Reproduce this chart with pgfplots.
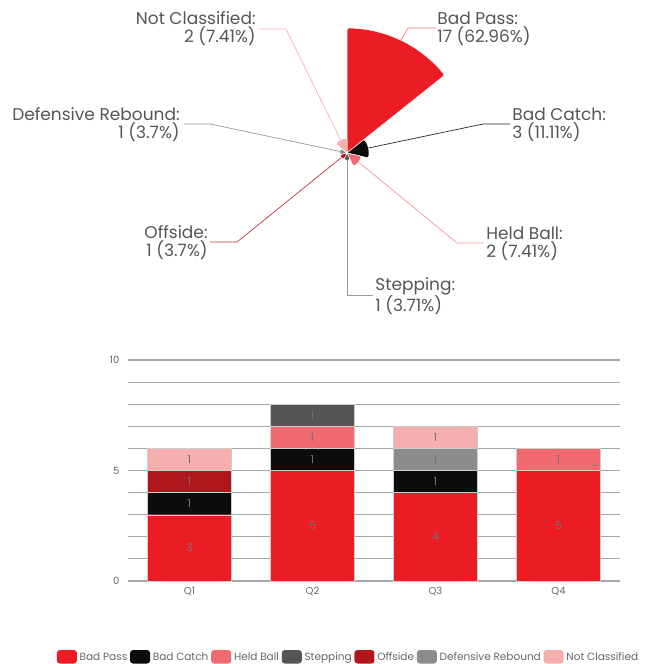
\documentclass[border=0pt]{standalone}
\usepackage{pgfplots}
\pgfplotsset{compat=1.18}
\usepackage{pgfplotstable}
\usepgfplotslibrary{polar}
\usepackage{fontspec}
\setmainfont{Poppins}
\definecolor{cBP}{HTML}{EC1C24}
\definecolor{cBC}{HTML}{0C0C0C}
\definecolor{cHB}{HTML}{F06A70}
\definecolor{cST}{HTML}{555555}
\definecolor{cOF}{HTML}{B0161C}
\definecolor{cDR}{HTML}{8C8C8C}
\definecolor{cNC}{HTML}{F7AEAE}
\definecolor{txt}{HTML}{555555}

\pgfplotstableread{
x BP BC HB ST OF DR NC
0 3 1 0 0 1 0 1
1 5 1 1 1 0 0 0
2 4 1 0 0 0 1 1
3 5 0 1 0 0 0 0
}\bardata

\pgfplotsset{seg/.style={table/x=x, table/y=#1, table/meta=#1}}

\begin{document}
\begin{tikzpicture}
\path[use as bounding box] (0pt,0pt) rectangle (646pt,-664pt);

% ---------- polar area chart ----------
\begin{polaraxis}[
  at={(347pt,-153pt)}, anchor=center,
  scale only axis, width=250pt, height=250pt,
  xmin=0, xmax=360, ymin=0, ymax=17,
  hide axis, clip=false,
  every axis plot/.append style={draw=white, line width=0.5pt, rounded corners=1.5pt},
]
% Bad Pass 17
\addplot[fill=cBP] coordinates {(0,0) (38.571,17) (41.79,17) (45,17) (48.21,17) (51.43,17) (54.64,17) (57.86,17) (61.07,17) (64.29,17) (67.5,17) (70.71,17) (73.93,17) (77.14,17) (80.36,17) (83.57,17) (86.79,17) (90,17) (0,0)};
% Bad Catch 3
\addplot[fill=cBC] coordinates {(0,0) (-12.857,3) (-6.43,3) (0,3) (6.43,3) (12.857,3) (19.29,3) (25.71,3) (32.14,3) (38.571,3) (0,0)};
% Held Ball 2
\addplot[fill=cHB] coordinates {(0,0) (-64.286,2) (-57.86,2) (-51.43,2) (-45,2) (-38.57,2) (-32.14,2) (-25.71,2) (-19.29,2) (-12.857,2) (0,0)};
% Stepping 1
\addplot[fill=cST] coordinates {(0,0) (-115.714,1) (-102.86,1) (-90,1) (-77.14,1) (-64.286,1) (0,0)};
% Offside 1
\addplot[fill=cOF] coordinates {(0,0) (-167.143,1) (-154.29,1) (-141.43,1) (-128.57,1) (-115.714,1) (0,0)};
% Defensive Rebound 1
\addplot[fill=cDR] coordinates {(0,0) (141.429,1) (154.29,1) (167.14,1) (180,1) (192.857,1) (0,0)};
% Not Classified 2
\addplot[fill=cNC] coordinates {(0,0) (90,2) (96.43,2) (102.86,2) (109.29,2) (115.71,2) (122.14,2) (128.57,2) (135,2) (141.429,2) (0,0)};
\end{polaraxis}

\begin{scope}[x=1pt,y=-1pt, line width=0.7pt]
\draw[cBP!60] (401,40) -- (408,28) -- (436,28);
\draw[black!85] (368.5,148) -- (483,124) -- (510,124);
\draw[cHB!70] (358.5,162) -- (457,243) -- (484,243);
\draw[black!40] (347,160.4) -- (347,295) -- (373,295);
\draw[cOF!85] (341.3,157.6) -- (237,242) -- (210,242);
\draw[black!40] (339.8,151.4) -- (210,124) -- (184,124);
\draw[cNC] (340.6,139.8) -- (286,29) -- (259,29);
\begin{scope}[every node/.style={font=\fontsize{17}{18}\selectfont, text=txt, inner sep=0pt}]
\node[anchor=west, align=left] at (437,29) {Bad Pass:\\17 (62.96\%)};
\node[anchor=west, align=left] at (512,125) {Bad Catch:\\3 (11.11\%)};
\node[anchor=west, align=left] at (486,244) {Held Ball:\\2 (7.41\%)};
\node[anchor=west, align=left] at (375,296) {Stepping:\\1 (3.71\%)};
\node[anchor=east, align=right] at (208,243) {Offside:\\1 (3.7\%)};
\node[anchor=east, align=right] at (180,125) {Defensive Rebound:\\1 (3.7\%)};
\node[anchor=east, align=right] at (256,29) {Not Classified:\\2 (7.41\%)};
\end{scope}
\end{scope}

% ---------- stacked bar chart ----------
\begin{axis}[
  at={(128pt,-581pt)}, anchor=south west,
  scale only axis, width=492pt, height=221pt,
  ybar stacked, bar width=0.68,
  xmin=-0.5, xmax=3.5, ymin=0, ymax=10,
  xtick={0,1,2,3}, xticklabels={Q1,Q2,Q3,Q4},
  ytick={0,5,10}, minor ytick={1,2,3,4,6,7,8,9},
  ymajorgrids, yminorgrids,
  major grid style={black!35, line width=1.1pt},
  minor grid style={black!35, line width=1.1pt},
  axis line style={draw=none},
  major tick length=0pt, minor tick length=0pt,
  tick label style={font=\fontsize{10}{12}\selectfont, text=black!60},
  xticklabel style={yshift=-3pt},
  yticklabel style={xshift=-5pt},
  /pgf/number format/assume math mode=true,
  point meta=explicit,
  every axis plot/.append style={draw=black!20, line width=0.4pt},
  nodes near coords={\pgfmathfloatifflags{\pgfplotspointmeta}{0}{}{\pgfmathprintnumber{\pgfplotspointmeta}}},
  every node near coord/.append style={anchor=center, font=\fontsize{11}{13}\selectfont, text=black!55},
  legend columns=7,
  legend style={at={(0.449,-0.344)}, anchor=center, draw=none, font=\fontsize{10.5}{12}\selectfont, text=black!60, column sep=0pt, nodes={inner sep=2.8pt}},
  legend image code/.code={\draw[#1, draw=none, rounded corners=3pt] (0pt,-6.5pt) rectangle (20pt,7pt);},
]
\addplot[fill=cBP, seg=BP] table {\bardata};
\addplot[fill=cBC, seg=BC] table {\bardata};
\addplot[fill=cHB, seg=HB] table {\bardata};
\addplot[fill=cST, seg=ST] table {\bardata};
\addplot[fill=cOF, seg=OF] table {\bardata};
\addplot[fill=cDR, seg=DR] table {\bardata};
\addplot[fill=cNC, seg=NC] table {\bardata};
\legend{Bad Pass, Bad Catch, Held Ball, Stepping, Offside, Defensive Rebound, Not Classified}
\end{axis}
\end{tikzpicture}
\end{document}
